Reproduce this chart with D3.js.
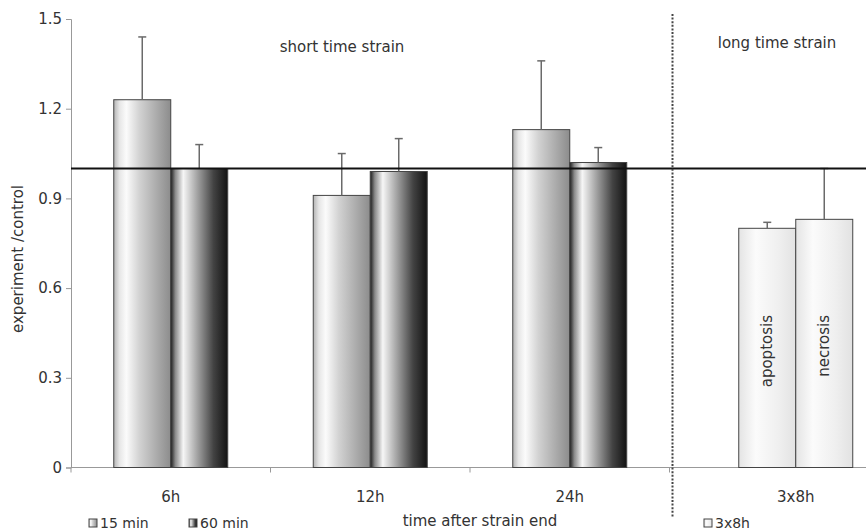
<!DOCTYPE html>
<html>
<head>
<meta charset="utf-8">
<script src="https://cdn.jsdelivr.net/npm/d3@7"></script>
<style>
  html, body { margin: 0; padding: 0; background: #fff; }
  svg { display: block; }
  text { font-family: "DejaVu Sans", sans-serif; fill: #333; }
</style>
</head>
<body>
<svg id="chart" width="866" height="531"></svg>
<script>
// Short time strain: ratio experiment/control after 15 min and 60 min strain
const categories = ["6h", "12h", "24h"];
const seriesNames = ["15 min", "60 min"];
const values15 = [1.23, 0.91, 1.13];
const errors15 = [0.21, 0.14, 0.23];
const values60 = [1.00, 0.99, 1.02];
const errors60 = [0.08, 0.11, 0.05];

// Long time strain (3x8h): apoptosis and necrosis
const longCategories = ["3x8h"];
const longNames = ["apoptosis", "necrosis"];
const longValues = [0.80, 0.83];
const longErrors = [0.02, 0.17];

const yTicks = [0, 0.3, 0.6, 0.9, 1.2, 1.5];
const yTickLabels = ["0", "0.3", "0.6", "0.9", "1.2", "1.5"];
const referenceValue = 1.0;

const svg = d3.select("#chart");
const W = 866;
const left = 71, axisY = 467.5, topY = 19;
const dividerX = 672.5;

const y = d3.scaleLinear().domain([0, 1.5]).range([axisY, topY]);

// short panel: group band + series band
const pIn = 0.4286;
const x0 = d3.scaleBand().domain(categories).range([left, 669.5])
  .paddingInner(pIn).paddingOuter(pIn / 2);
const x1 = d3.scaleBand().domain(seriesNames).range([0, x0.bandwidth()]);

// long panel uses the same group width
const longRange = [dividerX, 919];
const po = ((longRange[1] - longRange[0]) / x0.bandwidth() - 1) / 2;
const xl = d3.scaleBand().domain(longCategories).range(longRange).paddingOuter(po);
const xl1 = d3.scaleBand().domain(longNames).range([0, xl.bandwidth()]);

// gradients
const defs = svg.append("defs");
function grad(id, stops) {
  const g = defs.append("linearGradient").attr("id", id)
    .attr("x1", 0).attr("x2", 1).attr("y1", 0).attr("y2", 0);
  stops.forEach(([o, c]) => g.append("stop").attr("offset", o).attr("stop-color", c));
}
grad("g15", [[0, "#b4b4b4"], [0.1, "#e6e6e6"], [0.22, "#fbfbfb"], [0.45, "#d2d2d2"], [0.7, "#b2b2b2"], [1, "#8c8c8c"]]);
grad("g60", [[0, "#1c1c1c"], [0.08, "#8a8a8a"], [0.22, "#f6f6f6"], [0.45, "#a8a8a8"], [0.75, "#434343"], [1, "#121212"]]);
grad("glong", [[0, "#e4e4e4"], [0.3, "#fbfbfb"], [0.7, "#efefef"], [1, "#e2e2e2"]]);
const fills = { "15 min": "url(#g15)", "60 min": "url(#g60)" };

// y axis
const yAxis = d3.axisLeft(y).tickValues(yTicks)
  .tickFormat((d, i) => yTickLabels[i]).tickSize(5).tickPadding(4);
const gy = svg.append("g").attr("transform", `translate(${left},0)`).call(yAxis);
gy.select(".domain").attr("stroke", "#999");
gy.selectAll(".tick line").attr("stroke", "#999");
gy.selectAll(".tick text").style("font-size", "15px").attr("fill", "#333");

// x axis line and boundary ticks
svg.append("line").attr("x1", left).attr("x2", W).attr("y1", axisY).attr("y2", axisY)
  .attr("stroke", "#999").attr("stroke-width", 1.2);
const gap = (x0.step() - x0.bandwidth()) / 2;
const boundaries = categories.map(c => x0(c) - gap).concat([x0(categories[2]) + x0.bandwidth() + gap]);
svg.selectAll("line.btick").data(boundaries).join("line").attr("class", "btick")
  .attr("x1", d => d).attr("x2", d => d).attr("y1", axisY).attr("y2", axisY + 5)
  .attr("stroke", "#999");

// category labels
const gx = svg.append("g").attr("transform", `translate(0,${axisY})`)
  .call(d3.axisBottom(x0).tickSize(0).tickPadding(24));
gx.select(".domain").remove();
const gxl = svg.append("g").attr("transform", `translate(0,${axisY})`)
  .call(d3.axisBottom(xl).tickSize(0).tickPadding(24));
gxl.select(".domain").remove();
[gx, gxl].forEach(g => g.selectAll("text").style("font-size", "15px").attr("fill", "#333"));

// short-strain bars
const rows = [];
categories.forEach((c, i) => {
  rows.push({ cat: c, s: "15 min", v: values15[i], e: errors15[i] });
  rows.push({ cat: c, s: "60 min", v: values60[i], e: errors60[i] });
});
svg.append("g").selectAll("rect").data(rows).join("rect")
  .attr("x", d => x0(d.cat) + x1(d.s))
  .attr("y", d => y(d.v))
  .attr("width", x1.bandwidth())
  .attr("height", d => y(0) - y(d.v))
  .attr("fill", d => fills[d.s])
  .attr("stroke", "#444").attr("stroke-width", 1);

// long-strain bars
const longRows = longNames.map((n, i) => ({ n, v: longValues[i], e: longErrors[i] }));
svg.append("g").selectAll("rect").data(longRows).join("rect")
  .attr("x", d => xl(longCategories[0]) + xl1(d.n))
  .attr("y", d => y(d.v))
  .attr("width", xl1.bandwidth())
  .attr("height", d => y(0) - y(d.v))
  .attr("fill", "url(#glong)")
  .attr("stroke", "#444").attr("stroke-width", 1);

// error bars (upper only)
const errs = rows.map(d => ({ cx: x0(d.cat) + x1(d.s) + x1.bandwidth() / 2, v: d.v, e: d.e }))
  .concat(longRows.map(d => ({ cx: xl(longCategories[0]) + xl1(d.n) + xl1.bandwidth() / 2, v: d.v, e: d.e })));
const ge = svg.append("g").attr("stroke", "#6a6a6a").attr("stroke-width", 1.5);
ge.selectAll("line.stem").data(errs).join("line").attr("class", "stem")
  .attr("x1", d => d.cx).attr("x2", d => d.cx)
  .attr("y1", d => y(d.v)).attr("y2", d => y(d.v + d.e));
ge.selectAll("line.cap").data(errs).join("line").attr("class", "cap")
  .attr("x1", d => d.cx - 4).attr("x2", d => d.cx + 4)
  .attr("y1", d => y(d.v + d.e)).attr("y2", d => y(d.v + d.e));

// labels inside long-strain bars
svg.append("g").selectAll("text").data(longRows).join("text")
  .attr("transform", d => `translate(${xl(longCategories[0]) + xl1(d.n) + xl1.bandwidth() / 2 + 5},315) rotate(-90)`)
  .attr("text-anchor", "end")
  .style("font-size", "15px")
  .text(d => d.n);

// reference line at 1.0
svg.append("line").attr("x1", left).attr("x2", W)
  .attr("y1", y(referenceValue)).attr("y2", y(referenceValue))
  .attr("stroke", "#111").attr("stroke-width", 2);

// divider between short and long strain
svg.append("line").attr("x1", dividerX).attr("x2", dividerX).attr("y1", 14).attr("y2", 518)
  .attr("stroke", "#444").attr("stroke-width", 2).attr("stroke-dasharray", "2,1.6");

// panel titles
svg.append("text").attr("x", 342).attr("y", 52).attr("text-anchor", "middle")
  .style("font-size", "15px").text("short time strain");
svg.append("text").attr("x", 777).attr("y", 48).attr("text-anchor", "middle")
  .style("font-size", "15px").text("long time strain");

// axis titles
svg.append("text").attr("transform", "translate(23,259) rotate(-90)")
  .attr("text-anchor", "middle").style("font-size", "15px").text("experiment /control");
svg.append("text").attr("x", 480).attr("y", 526).attr("text-anchor", "middle")
  .style("font-size", "15px").text("time after strain end");

// legends
const legendItems = [
  { label: seriesNames[0], fill: fills["15 min"], x: 89 },
  { label: seriesNames[1], fill: fills["60 min"], x: 189 },
  { label: longCategories[0], fill: "url(#glong)", x: 704 }
];
const lg = svg.append("g").selectAll("g").data(legendItems).join("g")
  .attr("transform", d => `translate(${d.x},519)`);
lg.append("rect").attr("width", 8).attr("height", 8)
  .attr("fill", d => d.fill).attr("stroke", "#444").attr("stroke-width", 1);
lg.append("text").attr("x", 11).attr("y", 8.5).style("font-size", "14px").text(d => d.label);
</script>
</body>
</html>
